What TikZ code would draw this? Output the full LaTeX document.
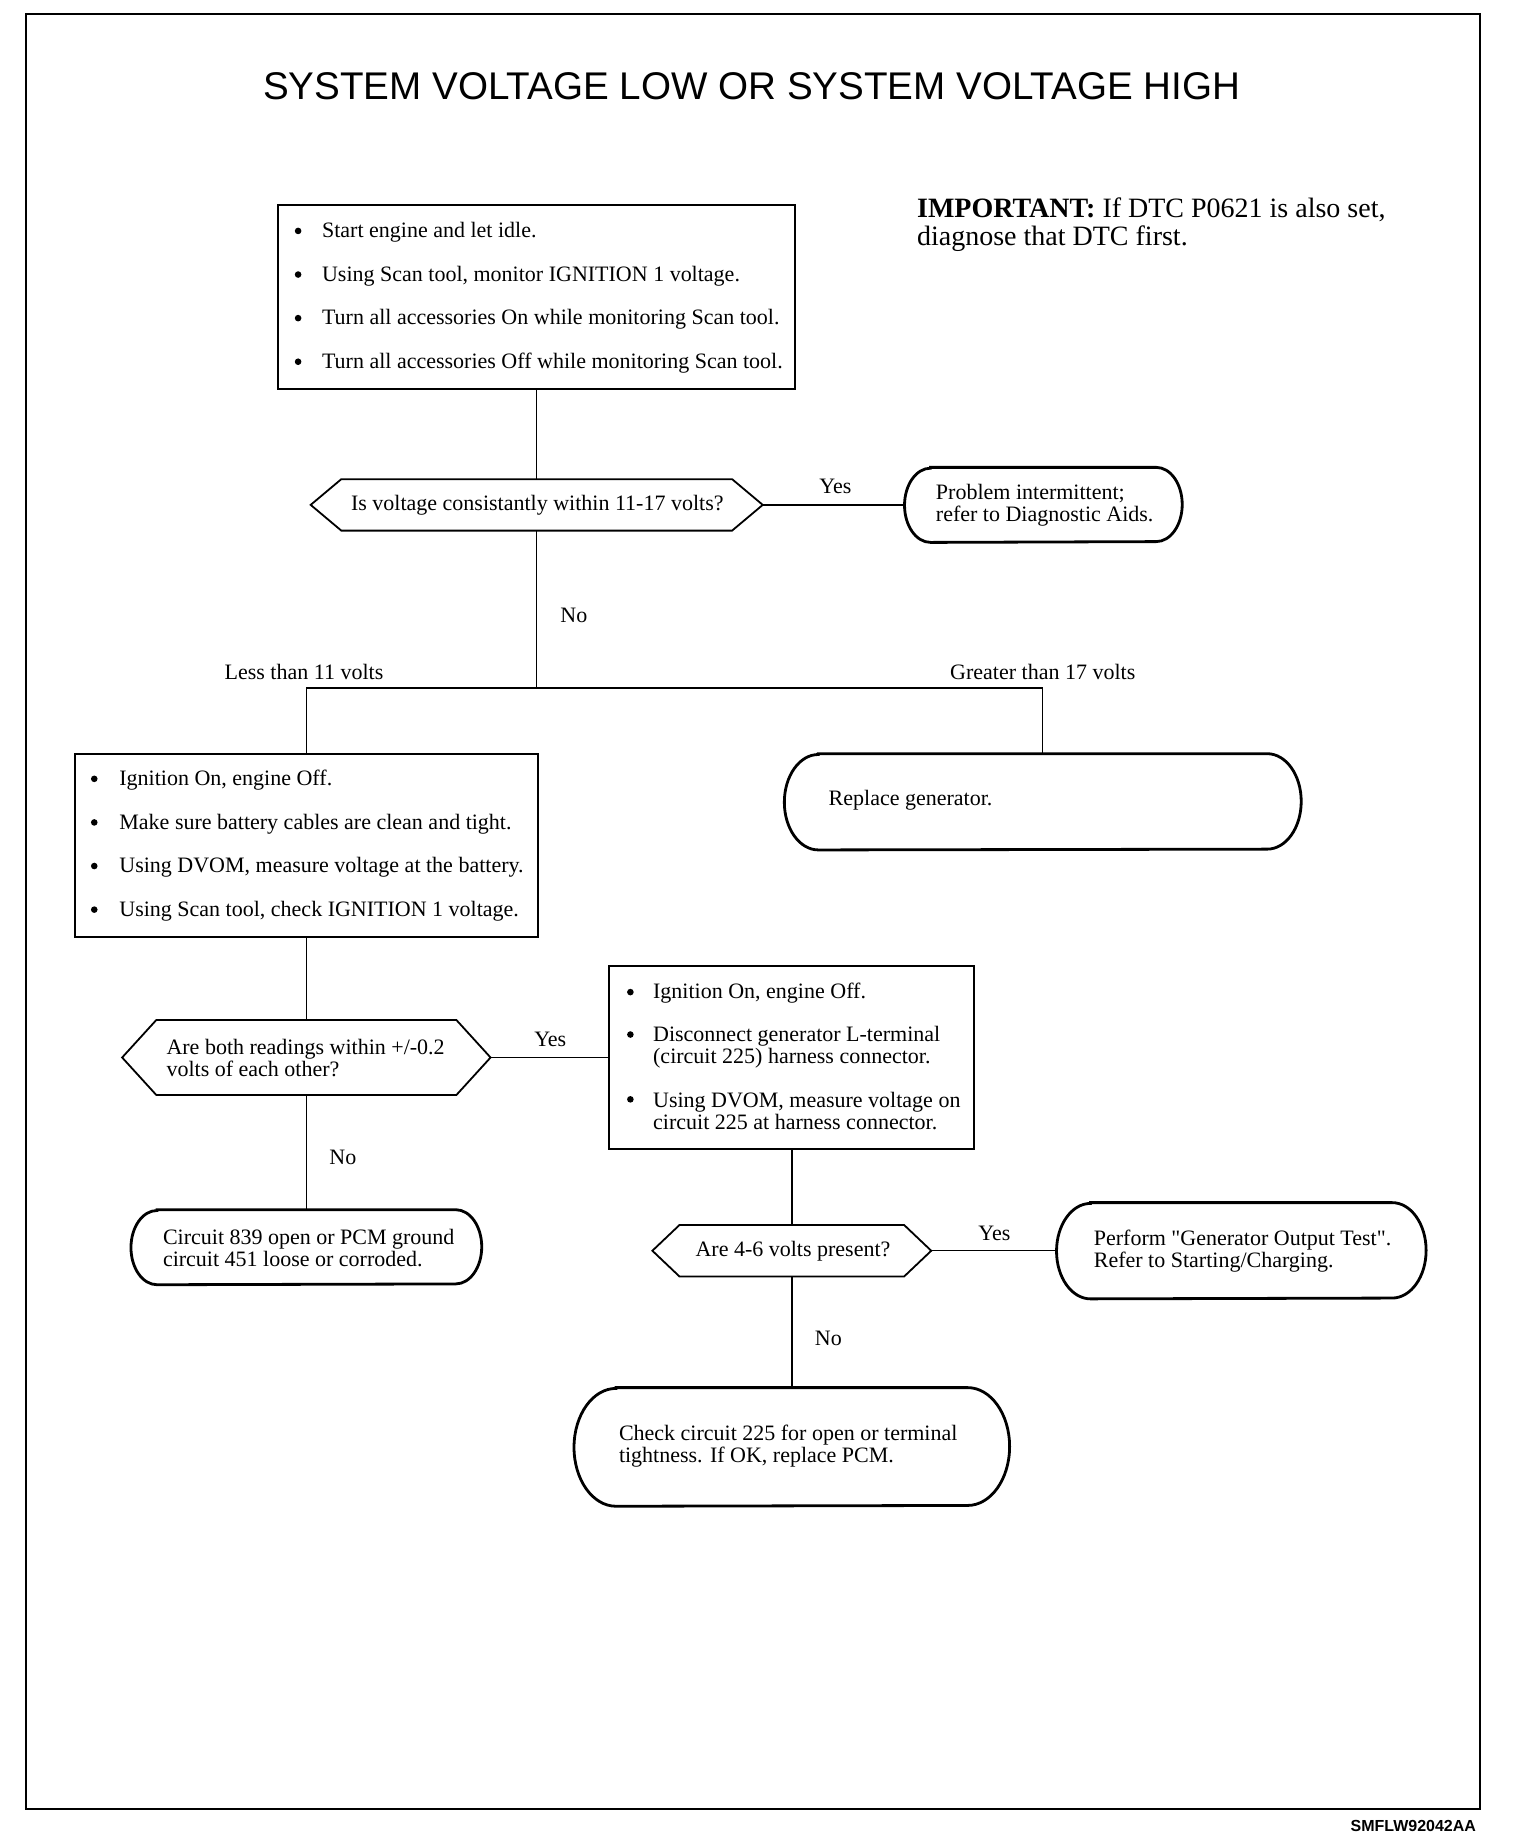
\documentclass[tikz,border=0pt]{standalone}
\usepackage{fontspec}
\setmainfont{Liberation Serif}
\newfontfamily\rawserif{Liberation Serif}
\newfontfamily\titlefont{Liberation Sans}
\newcommand\hexa[2]{\draw[hexline] (#1.west) -- ([xshift=#2]#1.north west) -- ([xshift=-#2]#1.north east) -- (#1.east) -- ([xshift=-#2]#1.south east) -- ([xshift=#2]#1.south west) -- cycle;}
\newcommand\stad[3]{\draw[termline] ([xshift=#2]#1.north west) -- ([xshift=-#2]#1.north east) arc[start angle=90,end angle=-90,x radius=#2,y radius=#3] -- ([xshift=#2]#1.south west) arc[start angle=270,end angle=90,x radius=#2,y radius=#3] -- cycle;}
\tikzset{
  rectbox/.style={draw,line width=1pt,inner sep=0pt},
  shaperef/.style={inner sep=0pt},
  termline/.style={line width=1.4pt},
  hexline/.style={line width=0.9pt,line join=miter},
  conn/.style={line width=0.7pt},
  txt/.style={inner sep=0pt,anchor=west,align=left,yshift=-0.7pt,font=\fontsize{11}{11}\selectfont},
  lbl/.style={inner sep=0pt,yshift=-0.7pt,font=\fontsize{11}{11}\selectfont},
  bul/.style={circle,fill,inner sep=0pt,minimum size=3.3pt}}
\begin{document}
\begin{tikzpicture}[x=0.58915pt,y=-0.58915pt]
\useasboundingbox (0,0) rectangle (1290,1566.7);
% frame
\draw[line width=1pt] (22,12) rectangle (1256,1535);
\node[inner sep=0pt,font=\titlefont\fontsize{19.3}{19.3}\selectfont] (title) at (638,73) {SYSTEM VOLTAGE LOW OR SYSTEM VOLTAGE HIGH};
\node[inner sep=0pt,anchor=west,align=left,font=\fontsize{14}{14.1}\selectfont] (imp) at (778,191) {\textbf{IMPORTANT:} If DTC P0621 is also set,\\diagnose that DTC first.};
\node[inner sep=0pt,anchor=east,font=\titlefont\bfseries\fontsize{8}{8}\selectfont] (code) at (1253,1550) {SMFLW92042AA};

% box 1
\node[rectbox,minimum width=258.64pt,minimum height=91.91pt] (box1) at (455.5,252) {};
\node[bul] (b1a) at (253,196) {};
\node[bul] (b1b) at (253,233) {};
\node[bul] (b1c) at (253,270) {};
\node[bul] (b1d) at (253,307) {};
\node[txt] (t1a) at (273,196) {Start engine and let idle.};
\node[txt] (t1b) at (273,233) {Using Scan tool, monitor IGNITION 1 voltage.};
\node[txt] (t1c) at (273,270) {Turn all accessories On while monitoring Scan tool.};
\node[txt] (t1d) at (273,307) {Turn all accessories Off while monitoring Scan tool.};

% decision 1
\node[shaperef,minimum width=225.64pt,minimum height=25.33pt] (d1) at (455.5,428.5) {};
\hexa{d1}{15.32pt}
\node[lbl] (d1t) at (456,428) {Is voltage consistantly within 11-17 volts?};

% problem intermittent
\node[shaperef,minimum width=138.45pt,minimum height=37.12pt] (p1) at (885.5,428.5) {};
\stad{p1}{13pt}{18.56pt}
\node[txt] (p1t) at (794,428) {Problem intermittent;\\refer to Diagnostic Aids.};

% branch
\coordinate (br) at (455.5,584);
\coordinate (brl) at (260,584);
\coordinate (brr) at (885,584);

% box 2
\node[rectbox,minimum width=231.54pt,minimum height=91.32pt] (box2) at (260,717.5) {};
\node[bul] (b2a) at (80,661) {};
\node[bul] (b2b) at (80,698) {};
\node[bul] (b2c) at (80,735) {};
\node[bul] (b2d) at (80,772) {};
\node[txt] (t2a) at (101,661) {Ignition On, engine Off.};
\node[txt] (t2b) at (101,698) {Make sure battery cables are clean and tight.};
\node[txt] (t2c) at (101,735) {Using DVOM, measure voltage at the battery.};
\node[txt] (t2d) at (101,772) {Using Scan tool, check IGNITION 1 voltage.};

% replace generator
\node[shaperef,minimum width=258.05pt,minimum height=47.72pt] (rg) at (885,680.5) {};
\stad{rg}{17pt}{23.86pt}
\node[txt] (rgt) at (703,678) {Replace generator.};

% decision 2
\node[shaperef,minimum width=183.81pt,minimum height=37.12pt] (d2) at (260,897.5) {};
\hexa{d2}{17.09pt}
\node[txt] (d2t) at (141,896.5) {Are both readings within +/-0.2\\volts of each other?};

% box 3
\node[rectbox,minimum width=182.64pt,minimum height=91.32pt] (box3) at (672,897.5) {};
\node[bul] (b3a) at (535,842) {};
\node[bul] (b3b) at (535,878) {};
\node[bul] (b3c) at (535,933) {};
\node[txt] (t3a) at (554,842) {Ignition On, engine Off.};
\node[txt] (t3b) at (554,887.5) {Disconnect generator L-terminal\\(circuit 225) harness connector.};
\node[txt] (t3c) at (554,942) {Using DVOM, measure voltage on\\circuit 225 at harness connector.};

% circuit 839
\node[shaperef,minimum width=174.98pt,minimum height=37.12pt] (c839) at (260,1058.5) {};
\stad{c839}{13pt}{18.56pt}
\node[txt] (c839t) at (138,1058) {Circuit 839 open or PCM ground\\circuit 451 loose or corroded.};

% decision 3
\node[shaperef,minimum width=139.04pt,minimum height=25.33pt] (d3) at (672,1061.5) {};
\hexa{d3}{13.55pt}
\node[lbl] (d3t) at (673,1061) {Are 4-6 volts present?};

% perform
\node[shaperef,minimum width=184.40pt,minimum height=47.72pt] (perf) at (1053.5,1061.5) {};
\stad{perf}{17pt}{23.86pt}
\node[txt] (perft) at (928,1061) {Perform {\rawserif "}Generator Output Test{\rawserif "}.\\Refer to Starting/Charging.};

% check circuit
\node[shaperef,minimum width=217.40pt,minimum height=58.92pt] (chk) at (672,1228) {};
\stad{chk}{21pt}{29.46pt}
\node[txt] (chkt) at (525,1226.5) {Check circuit 225 for open or terminal\\tightness. If OK, replace PCM.};

% connectors
\draw[conn] (box1.south) -- (d1.north);
\draw[line width=1.2pt] (d1.east) -- (p1.west);
\draw[conn] (d1.south) -- (br);
\draw[conn] (brl) -- (brr);
\draw[conn] (brl) -- (box2.north);
\draw[conn] (brr) -- (rg.north);
\draw[conn] (box2.south) -- (d2.north);
\draw[conn] (d2.east) -- (box3.west);
\draw[conn] (d2.south) -- (c839.north);
\draw[conn] (box3.south) -- (d3.north);
\draw[conn] (d3.east) -- (perf.west);
\draw[conn] (d3.south) -- (chk.north);

% labels
\node[lbl] (y1) at (709,412) {Yes};
\node[lbl] (n1) at (487,521) {No};
\node[lbl] (lt) at (258,569) {Less than 11 volts};
\node[lbl] (gt) at (885,569) {Greater than 17 volts};
\node[lbl] (y2) at (467,881) {Yes};
\node[lbl] (n2) at (291,981) {No};
\node[lbl] (y3) at (844,1046) {Yes};
\node[lbl] (n3) at (703,1135) {No};
\end{tikzpicture}
\end{document}
